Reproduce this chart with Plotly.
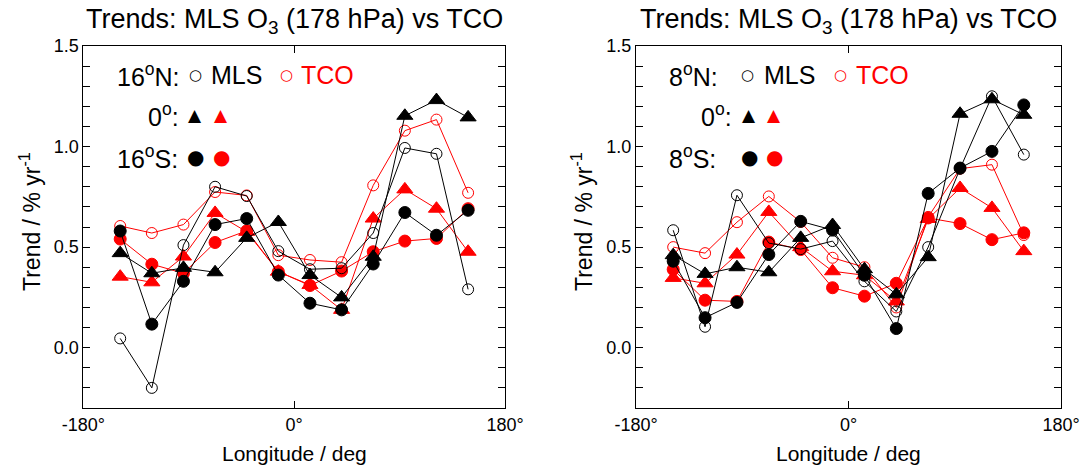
import plotly.graph_objects as go

# ---------------- data ----------------
lon = [-148.5, -121.5, -94.5, -67.5, -40.5, -13.5, 13.5, 40.5, 67.5, 94.5, 121.5, 148.5]

# Left panel: 16N / 0 / 16S
l_n_mls = [0.046, -0.20, 0.51, 0.80, 0.754, 0.48, 0.39, 0.395, 0.57, 0.993, 0.964, 0.29]
l_n_tco = [0.605, 0.57, 0.612, 0.774, 0.757, 0.46, 0.436, 0.425, 0.807, 1.079, 1.134, 0.77]
l_e_mls = [0.47, 0.37, 0.397, 0.375, 0.546, 0.625, 0.361, 0.25, 0.452, 1.153, 1.231, 1.145]
l_e_tco = [0.353, 0.325, 0.453, 0.67, 0.576, 0.378, 0.312, 0.188, 0.642, 0.787, 0.691, 0.477]
l_s_mls = [0.58, 0.117, 0.33, 0.612, 0.642, 0.361, 0.221, 0.188, 0.416, 0.672, 0.559, 0.683]
l_s_tco = [0.54, 0.415, 0.37, 0.523, 0.581, 0.378, 0.309, 0.381, 0.477, 0.53, 0.543, 0.691]

# Right panel: 8N / 0 / 8S
r_n_mls = [0.584, 0.104, 0.758, 0.52, 0.49, 0.53, 0.33, 0.18, 0.50, 0.89, 1.25, 0.96]
r_n_tco = [0.50, 0.47, 0.624, 0.752, 0.625, 0.447, 0.40, 0.20, 0.65, 0.89, 0.91, 0.56]
r_e_mls = [0.46, 0.367, 0.40, 0.375, 0.546, 0.61, 0.39, 0.265, 0.45, 1.163, 1.235, 1.158]
r_e_tco = [0.347, 0.32, 0.463, 0.675, 0.50, 0.38, 0.36, 0.23, 0.64, 0.794, 0.695, 0.48]
r_s_mls = [0.43, 0.149, 0.225, 0.463, 0.628, 0.585, 0.36, 0.095, 0.767, 0.893, 0.976, 1.207]
r_s_tco = [0.389, 0.236, 0.23, 0.525, 0.488, 0.298, 0.256, 0.32, 0.645, 0.617, 0.537, 0.571]

x_tickvals = [-180, 0, 180]
x_ticktext = ["-180°", "0°", "180°"]
y_tickvals = [0.0, 0.5, 1.0, 1.5]
y_ticktext = ["0.0", "0.5", "1.0", "1.5"]

title_text = "Trends: MLS O<sub>3</sub> (178 hPa) vs TCO"
left_lat = ["16<sup>o</sup>N:", "0<sup>o</sup>:", "16<sup>o</sup>S:"]
right_lat = ["8<sup>o</sup>N:", "0<sup>o</sup>:", "8<sup>o</sup>S:"]

BLACK = "#000000"
RED = "#ff0000"
FONT = "Liberation Sans, Arial, Helvetica, sans-serif"

fig = go.Figure()


def add_series(y, xa, ya, color, symbol, size):
    fig.add_trace(go.Scatter(
        x=lon, y=y, xaxis=xa, yaxis=ya, mode="lines+markers",
        line=dict(color=color, width=1),
        marker=dict(symbol=symbol, size=size, color=color,
                    line=dict(color=color, width=1)),
        showlegend=False, hoverinfo="x+y"))


for xa, ya, series in [
    ("x", "y", [l_n_mls, l_n_tco, l_e_mls, l_e_tco, l_s_mls, l_s_tco]),
    ("x2", "y2", [r_n_mls, r_n_tco, r_e_mls, r_e_tco, r_s_mls, r_s_tco]),
]:
    n_mls, n_tco, e_mls, e_tco, s_mls, s_tco = series
    add_series(s_tco, xa, ya, RED, "circle", 12)
    add_series(e_tco, xa, ya, RED, "triangle-up", 14)
    add_series(n_tco, xa, ya, RED, "circle-open", 11)
    add_series(s_mls, xa, ya, BLACK, "circle", 12)
    add_series(e_mls, xa, ya, BLACK, "triangle-up", 14)
    add_series(n_mls, xa, ya, BLACK, "circle-open", 11)

W, H = 1084, 470
top_px, bot_px = 46, 408
yd = [(H - bot_px) / H, (H - top_px) / H]
xd1 = [83.3 / W, 505 / W]
xd2 = [636 / W, 1061 / W]

axis_common = dict(showline=True, linecolor=BLACK, linewidth=1, mirror="ticks",
                   ticks="inside", ticklen=7, tickcolor=BLACK, tickwidth=1,
                   showgrid=False, zeroline=False, automargin=False,
                   tickfont=dict(family=FONT, size=18, color=BLACK))

xcommon = dict(axis_common, range=[-180, 180], tickmode="array",
               tickvals=x_tickvals, ticktext=x_ticktext)
ycommon = dict(axis_common, range=[-0.3, 1.5], tickmode="array",
               tickvals=y_tickvals, ticktext=y_ticktext,
               minor=dict(dtick=0.1, ticks="inside", ticklen=7, tickcolor=BLACK,
                          tickwidth=1, showgrid=False))

fig.update_layout(
    width=W, height=H, autosize=False,
    margin=dict(l=0, r=0, t=0, b=0, pad=0),
    paper_bgcolor="white", plot_bgcolor="white",
    xaxis=dict(xcommon, domain=xd1, anchor="y"),
    yaxis=dict(ycommon, domain=yd, anchor="x"),
    xaxis2=dict(xcommon, domain=xd2, anchor="y2"),
    yaxis2=dict(ycommon, domain=yd, anchor="x2"),
    font=dict(family=FONT, color=BLACK),
)

ann = []


def txt(text, x, y, xref="paper", yref="paper", size=19, color=BLACK,
        xanchor="center", yanchor="middle", angle=0, family=FONT):
    ann.append(dict(text=text, x=x, y=y, xref=xref, yref=yref, showarrow=False,
                    font=dict(family=family, size=size, color=color),
                    xanchor=xanchor, yanchor=yanchor, textangle=angle))


for dom, xr, yr, lats, pos in [
    (xd1, "x domain", "y domain", left_lat,
     dict(lab=0.075, c1=0.265, mls=0.298, c2=0.483, tco=0.512, eq=0.232, m1=0.265, m2=0.327)),
    (xd2, "x2 domain", "y2 domain", right_lat,
     dict(lab=0.073, c1=0.262, mls=0.297, c2=0.48, tco=0.512, eq=0.23, m1=0.266, m2=0.325)),
]:
    cx = (dom[0] + dom[1]) / 2
    # panel title
    txt(title_text, cx, 1 - 21 / H, size=27)
    # x axis title
    txt("Longitude / deg", cx, 1 - 453 / H, size=21)
    # legend rows
    r1, r2, r3 = 0.92, 0.809, 0.693
    txt(lats[0], pos["lab"], r1, xr, yr, size=25, xanchor="left")
    txt("○", pos["c1"], r1, xr, yr, size=15, family="DejaVu Sans")
    txt("MLS", pos["mls"], r1, xr, yr, size=25, xanchor="left")
    txt("○", pos["c2"], r1, xr, yr, size=15, color=RED, family="DejaVu Sans")
    txt("TCO", pos["tco"], r1, xr, yr, size=25, color=RED, xanchor="left")
    txt(lats[1], pos["eq"], r2, xr, yr, size=25, xanchor="right")
    txt("▲", pos["m1"], r2, xr, yr, size=17, family="DejaVu Sans")
    txt("▲", pos["m2"], r2, xr, yr, size=17, color=RED, family="DejaVu Sans")
    txt(lats[2], pos["lab"], r3, xr, yr, size=25, xanchor="left")
    txt("●", pos["m1"], r3, xr, yr, size=20, family="DejaVu Sans")
    txt("●", pos["m2"], r3, xr, yr, size=20, color=RED, family="DejaVu Sans")

# y axis titles
txt("Trend / % yr<sup>-1</sup>", 30 / W, 1 - 222 / H, size=23, angle=-90)
txt("Trend / % yr<sup>-1</sup>", 582 / W, 1 - 222 / H, size=23, angle=-90)

fig.update_layout(annotations=ann)
fig.write_html("out.html", config={"displayModeBar": False},
               post_script="document.body.style.margin='0';document.body.style.overflow='hidden';")
